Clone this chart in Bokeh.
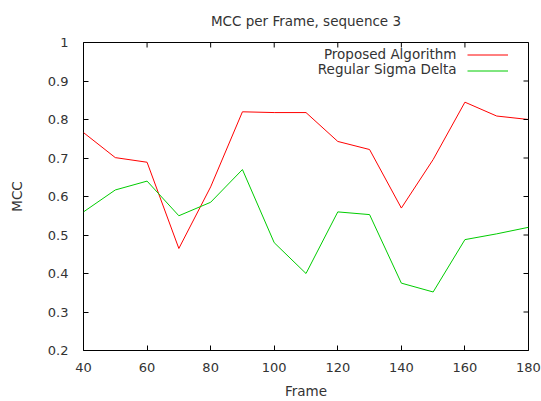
import math
from bokeh.plotting import figure
from bokeh.models import (FixedTicker, PrintfTickFormatter, Legend,
                          LegendItem, Label, Title, Range1d)
from bokeh.core.properties import value
from bokeh.embed import file_html
from bokeh.resources import INLINE

frames = [40, 50, 60, 70, 80, 90, 100, 110, 120, 130, 140, 150, 160, 170, 180]
proposed = [0.766, 0.701, 0.689, 0.465, 0.625, 0.820, 0.818, 0.818, 0.743, 0.722,
            0.570, 0.696, 0.845, 0.809, 0.800]
sigma_delta = [0.560, 0.617, 0.640, 0.550, 0.585, 0.670, 0.480, 0.400, 0.560, 0.553,
               0.375, 0.352, 0.488, 0.503, 0.520]
x_ticks = [40, 60, 80, 100, 120, 140, 160, 180]
y_ticks = [0.2, 0.3, 0.4, 0.5, 0.6, 0.7, 0.8, 0.9, 1.0]
series_names = ["Proposed Algorithm", "Regular Sigma Delta"]
title_text = "MCC per Frame, sequence 3"

FONT = "DejaVu Sans"
TXT = "#333333"

p = figure(width=541, height=401, output_backend="svg", toolbar_location=None,
           x_range=Range1d(x_ticks[0], x_ticks[-1]), y_range=Range1d(y_ticks[0], y_ticks[-1]),
           min_border_left=83, min_border_right=13, min_border_top=42, min_border_bottom=48)
p.title = Title(text=title_text, align="center", vertical_align="top", text_font=FONT,
                text_font_size="13.5px", text_font_style="normal", text_color=TXT,
                standoff=23)
p.grid.visible = False
p.outline_line_color = "black"
p.outline_line_width = 1
p.background_fill_color = "white"
p.border_fill_color = "white"

r1 = p.line(frames, proposed, line_color="#ff0000", line_width=1)
r2 = p.line(frames, sigma_delta, line_color="#00cc00", line_width=1)

# mirrored inward ticks on the top and right borders (clipped to the frame)
p.scatter(x=x_ticks, y=[y_ticks[-1]] * len(x_ticks), marker="dash", size=10,
          angle=math.pi / 2, line_color="black", line_width=1)
p.scatter(x=[x_ticks[-1]] * len(y_ticks), y=y_ticks, marker="dash", size=10,
          line_color="black", line_width=1)

def style_axis(ax):
    ax.axis_line_color = None
    ax.major_tick_in = 5
    ax.major_tick_out = 0
    ax.minor_tick_in = 0
    ax.minor_tick_out = 0
    ax.major_tick_line_color = "black"
    ax.major_label_text_font = FONT
    ax.major_label_text_font_size = "13px"
    ax.major_label_text_color = TXT
    ax.axis_label_text_font = FONT
    ax.axis_label_text_font_size = "13.5px"
    ax.axis_label_text_font_style = "normal"
    ax.axis_label_text_color = TXT

xa = p.xaxis[0]
ya = p.yaxis[0]
xa.ticker = FixedTicker(ticks=x_ticks)
ya.ticker = FixedTicker(ticks=y_ticks)
ya.formatter = PrintfTickFormatter(format="%g")
style_axis(xa)
style_axis(ya)
xa.axis_label = "Frame"
ya.axis_label = "MCC"
xa.major_label_standoff = 12
xa.axis_label_standoff = 8
ya.major_label_standoff = 15
ya.axis_label_standoff = 20

legend = Legend(items=[LegendItem(label=value(""), renderers=[r1]),
                       LegendItem(label=value(""), renderers=[r2])],
                location="top_right", margin=5, padding=0, spacing=1,
                glyph_width=41, glyph_height=15, label_width=15, label_height=15,
                label_standoff=0, border_line_color=None, background_fill_alpha=0,
                label_text_font_size="13px")
p.add_layout(legend, "center")

for i, name in enumerate(series_names):
    p.add_layout(Label(x=x_ticks[-1], y=y_ticks[-1], x_offset=-72, y_offset=-11 - 15.7 * i,
                       text=name, text_align="right", text_baseline="middle",
                       text_font=FONT, text_font_size="13.5px", text_color=TXT))

open("out.html", "w").write(file_html(p, INLINE))
